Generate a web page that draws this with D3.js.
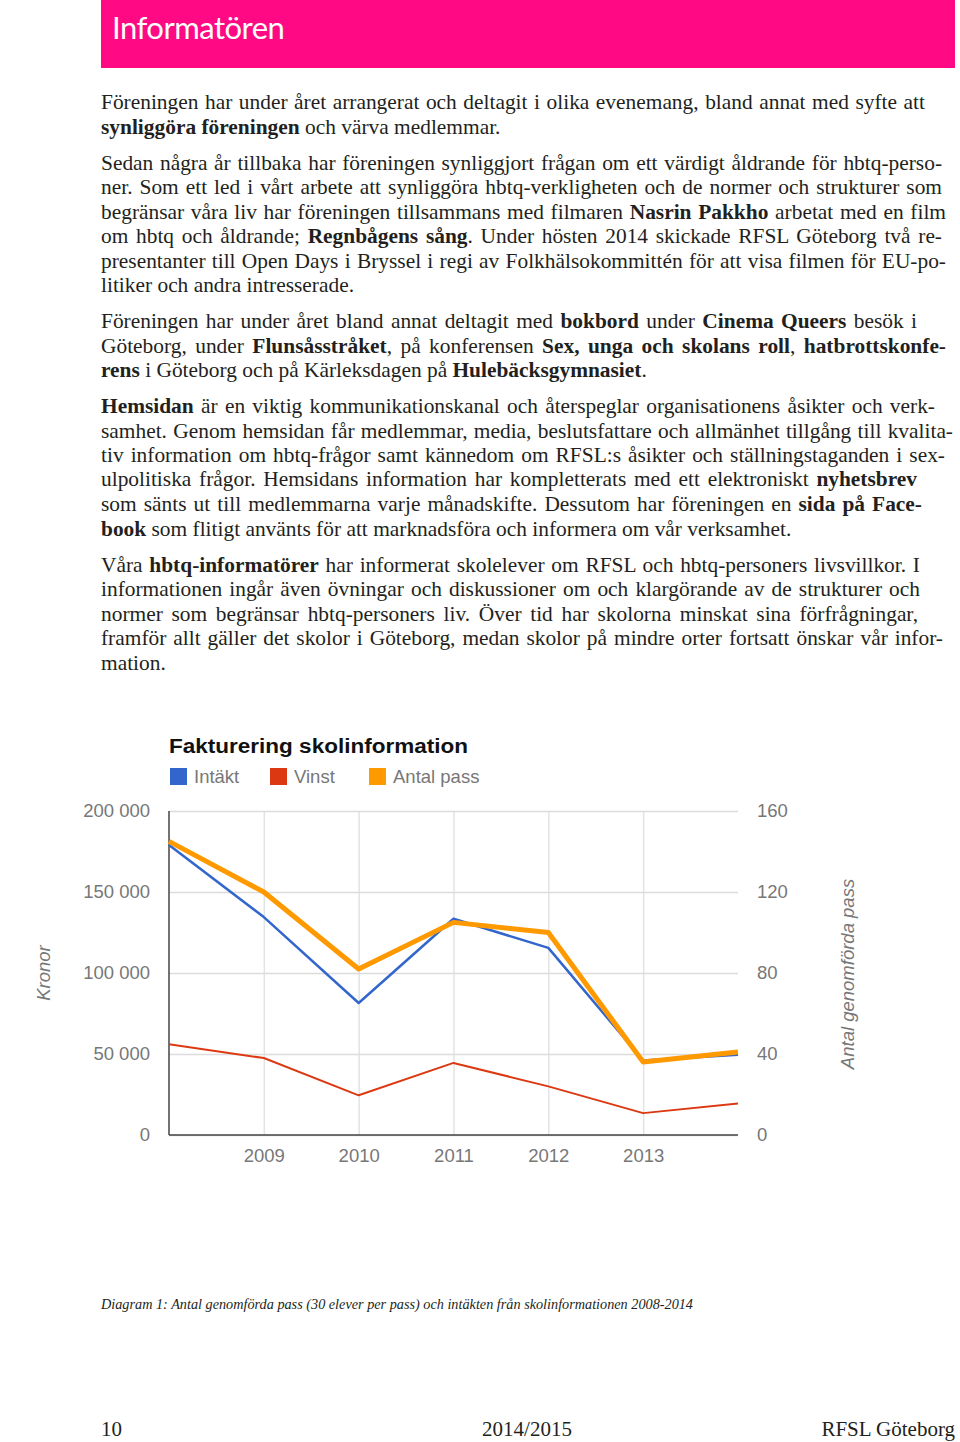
<!DOCTYPE html>
<html>
<head>
<meta charset="utf-8">
<script src="https://cdnjs.cloudflare.com/ajax/libs/d3/7.8.5/d3.min.js"></script>
<style>
  body { margin: 0; background: #fff; }
  #page { position: relative; width: 960px; height: 1442px; overflow: hidden; background: #fff; }
  .line { position: absolute; left: 101px; font-family: "Liberation Serif", serif; font-size: 21.4px;
          line-height: 24px; color: #231f20; white-space: nowrap; }
  .just { text-align: justify; text-align-last: justify; }
  svg { position: absolute; left: 0; top: 0; }
</style>
</head>
<body>
<div id="page"></div>
<script>
// chart data
var years = [2008, 2009, 2010, 2011, 2012, 2013, 2014];
var intakt = [179000, 134500, 81500, 133500, 115500, 46000, 49500];
var vinst = [56000, 47500, 24500, 44500, 30000, 13500, 19500];
var antalPass = [145, 120, 82, 105, 100, 36, 41];
var yearLabels = [2009, 2010, 2011, 2012, 2013];
var leftTicks = [0, 50000, 100000, 150000, 200000];
var rightTicks = [0, 40, 80, 120, 160];
var legendNames = ["Intäkt", "Vinst", "Antal pass"];
var colors = ["#3366cc", "#dc3912", "#ff9900"];

// body text: [text with ** for bold, right edge, justified?, center y]
var lines = [
  ["Föreningen har under året arrangerat och deltagit i olika evenemang, bland annat med syfte att", 925, true, 104],
  ["**synliggöra föreningen** och värva medlemmar.", 0, false, 129],
  ["Sedan några år tillbaka har föreningen synliggjort frågan om ett värdigt åldrande för hbtq-perso-", 942, true, 165],
  ["ner. Som ett led i vårt arbete att synliggöra hbtq-verkligheten och de normer och strukturer som", 942, true, 189],
  ["begränsar våra liv har föreningen tillsammans med filmaren **Nasrin Pakkho** arbetat med en film", 946, true, 214],
  ["om hbtq och åldrande; **Regnbågens sång**. Under hösten 2014 skickade RFSL Göteborg två re-", 942, true, 238],
  ["presentanter till Open Days i Bryssel i regi av Folkhälsokommittén för att visa filmen för EU-po-", 946, true, 263],
  ["litiker och andra intresserade.", 0, false, 287],
  ["Föreningen har under året bland annat deltagit med **bokbord** under **Cinema Queers** besök i", 917, true, 323],
  ["Göteborg, under **Flunsåsstråket**, på konferensen **Sex, unga och skolans roll**, **hatbrottskonfe-**", 946, true, 348],
  ["**rens** i Göteborg och på Kärleksdagen på **Hulebäcksgymnasiet**.", 0, false, 372],
  ["**Hemsidan** är en viktig kommunikationskanal och återspeglar organisationens åsikter och verk-", 935, true, 408],
  ["samhet. Genom hemsidan får medlemmar, media, beslutsfattare och allmänhet tillgång till kvalita-", 953, true, 433],
  ["tiv information om hbtq-frågor samt kännedom om RFSL:s åsikter och ställningstaganden i sex-", 945, true, 457],
  ["ulpolitiska frågor. Hemsidans information har kompletterats med ett elektroniskt **nyhetsbrev**", 917, true, 481],
  ["som sänts ut till medlemmarna varje månadskifte. Dessutom har föreningen en **sida på Face-**", 922, true, 506],
  ["**book** som flitigt använts för att marknadsföra och informera om vår verksamhet.", 0, false, 531],
  ["Våra **hbtq-informatörer** har informerat skolelever om RFSL och hbtq-personers livsvillkor. I", 920, true, 567],
  ["informationen ingår även övningar och diskussioner om och klargörande av de strukturer och", 920, true, 591],
  ["normer som begränsar hbtq-personers liv. Över tid har skolorna minskat sina förfrågningar,", 918, true, 616],
  ["framför allt gäller det skolor i Göteborg, medan skolor på mindre orter fortsatt önskar vår infor-", 943, true, 640],
  ["mation.", 0, false, 665]
];

var page = d3.select("#page");

// pink header
page.append("div")
    .style("position", "absolute").style("left", "101px").style("top", "0px")
    .style("width", "854px").style("height", "68px").style("background", "#ff0a84");
page.append("div")
    .style("position", "absolute").style("left", "112px").style("top", "8px")
    .style("font-family", "Lato, sans-serif").style("font-size", "31px")
    .style("color", "#fff").style("letter-spacing", "-0.5px")
    .text("Informatören");

function toHtml(s) {
    return s.replace(/\*\*(.+?)\*\*/g, "<b>$1</b>");
}

page.selectAll("div.line")
    .data(lines)
    .enter()
    .append("div")
    .attr("class", function (d) { return d[2] ? "line just" : "line"; })
    .style("top", function (d) { return (d[3] - 14) + "px"; })
    .style("width", function (d) { return d[2] ? (d[1] - 101) + "px" : null; })
    .html(function (d) { return toHtml(d[0]); });

var svg = page.append("svg")
        .attr("width", 960)
        .attr("height", 1442);

var x = d3.scaleLinear().domain([2008, 2014]).range([169, 738]);
var yL = d3.scaleLinear().domain([0, 200000]).range([1135, 811]);
var yR = d3.scaleLinear().domain([0, 160]).range([1135, 811]);

var fmt = d3.formatLocale({decimal: ",", thousands: " ", grouping: [3], currency: ["", " kr"]}).format(",d");

var chartFont = "'Liberation Sans', Arial, sans-serif";
var labelGrey = "#777";

// vertical gridlines
svg.append("g")
    .attr("transform", "translate(0,1135)")
    .call(d3.axisBottom(x).tickValues(yearLabels).tickSize(-324).tickFormat(""))
    .call(function (g) {
        g.select(".domain").remove();
        g.selectAll("line").attr("stroke", "#e3e3e3").attr("stroke-width", 1.5);
    });

// horizontal gridlines + left labels
svg.append("g")
    .attr("transform", "translate(169,0)")
    .call(d3.axisLeft(yL).tickValues(leftTicks).tickSize(-569).tickPadding(19).tickFormat(fmt))
    .call(function (g) {
        g.select(".domain").remove();
        g.selectAll("line").attr("stroke", "#dcdcdc").attr("stroke-width", 1.5);
        g.selectAll("text").attr("font-family", chartFont).attr("font-size", 18.5)
            .attr("fill", labelGrey);
    });

// right labels
svg.append("g")
    .attr("transform", "translate(738,0)")
    .call(d3.axisRight(yR).tickValues(rightTicks).tickSize(0).tickPadding(19))
    .call(function (g) {
        g.select(".domain").remove();
        g.selectAll("text").attr("font-family", chartFont).attr("font-size", 18.5)
            .attr("fill", labelGrey);
    });

// x labels
svg.append("g")
    .attr("transform", "translate(0,1135)")
    .call(d3.axisBottom(x).tickValues(yearLabels).tickSize(0).tickPadding(14).tickFormat(d3.format("d")))
    .call(function (g) {
        g.select(".domain").remove();
        g.selectAll("text").attr("font-family", chartFont).attr("font-size", 18.5)
            .attr("fill", labelGrey);
    });

// axis lines
svg.append("line")
    .attr("x1", 169).attr("x2", 169).attr("y1", yL(200000)).attr("y2", yL(0))
    .attr("stroke", "#444").attr("stroke-width", 1.5);
svg.append("line")
    .attr("x1", 169).attr("x2", 738).attr("y1", yL(0)).attr("y2", yL(0))
    .attr("stroke", "#444").attr("stroke-width", 1.5);

// series
var seriesList = [
    {vals: intakt, y: yL, color: colors[0], w: 2.5},
    {vals: vinst, y: yL, color: colors[1], w: 2},
    {vals: antalPass, y: yR, color: colors[2], w: 5}
];
seriesList.forEach(function (s) {
    var line = d3.line()
        .x(function (d, i) { return x(years[i]); })
        .y(function (d) { return s.y(d); });
    svg.append("path")
        .datum(s.vals)
        .attr("d", line)
        .attr("fill", "none")
        .attr("stroke", s.color)
        .attr("stroke-width", s.w)
        .attr("stroke-linejoin", "round");
});

// title
svg.append("text")
    .attr("x", 169).attr("y", 753)
    .attr("font-family", chartFont).attr("font-weight", "bold").attr("font-size", 19.5)
    .attr("fill", "#111").attr("textLength", 299).attr("lengthAdjust", "spacingAndGlyphs")
    .text("Fakturering skolinformation");

// legend
var legendX = [170, 270, 369];
var legend = svg.selectAll("g.legend")
    .data(legendNames)
    .enter()
    .append("g")
    .attr("class", "legend")
    .attr("transform", function (d, i) { return "translate(" + legendX[i] + ",768)"; });
legend.append("rect")
    .attr("width", 17).attr("height", 17)
    .attr("fill", function (d, i) { return colors[i]; });
legend.append("text")
    .attr("x", 24).attr("y", 15)
    .attr("font-family", chartFont).attr("font-size", 18.5).attr("fill", labelGrey)
    .text(function (d) { return d; });

// axis titles
svg.append("text")
    .attr("transform", "translate(50,973) rotate(-90)")
    .attr("text-anchor", "middle")
    .attr("font-family", chartFont).attr("font-style", "italic").attr("font-size", 18.5)
    .attr("fill", labelGrey)
    .text("Kronor");
svg.append("text")
    .attr("transform", "translate(854,974) rotate(-90)")
    .attr("text-anchor", "middle")
    .attr("font-family", chartFont).attr("font-style", "italic").attr("font-size", 18.5)
    .attr("fill", labelGrey)
    .text("Antal genomförda pass");

// caption
svg.append("text")
    .attr("x", 101).attr("y", 1309)
    .attr("font-family", "'Liberation Serif', serif").attr("font-style", "italic").attr("font-size", 15.5)
    .attr("fill", "#231f20").attr("textLength", 592).attr("lengthAdjust", "spacingAndGlyphs")
    .text("Diagram 1: Antal genomförda pass (30 elever per pass) och intäkten från skolinformationen 2008-2014");

// footer
var footerFont = "'Liberation Serif', serif";
svg.append("text").attr("x", 101).attr("y", 1436)
    .attr("font-family", footerFont).attr("font-size", 21).attr("fill", "#231f20").text("10");
svg.append("text").attr("x", 527).attr("y", 1436).attr("text-anchor", "middle")
    .attr("font-family", footerFont).attr("font-size", 21).attr("fill", "#231f20").text("2014/2015");
svg.append("text").attr("x", 955).attr("y", 1436).attr("text-anchor", "end")
    .attr("font-family", footerFont).attr("font-size", 21).attr("fill", "#231f20").text("RFSL Göteborg");
</script>
</body>
</html>
